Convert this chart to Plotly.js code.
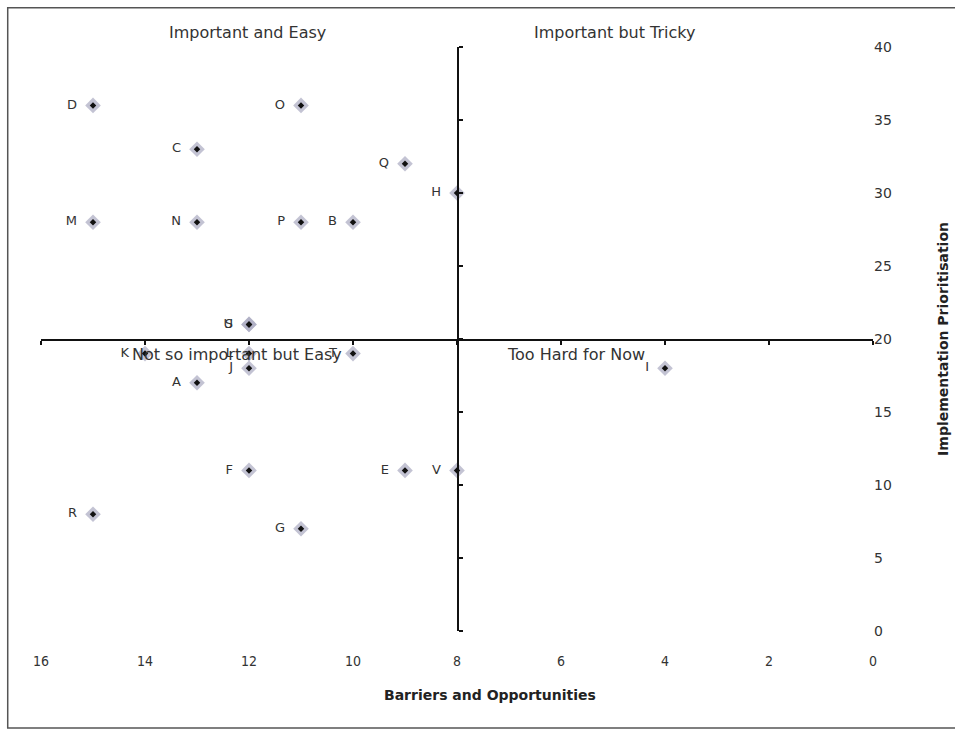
<!DOCTYPE html>
<html>
<head>
<meta charset="utf-8">
<script src="https://cdn.plot.ly/plotly-3.0.1.min.js"></script>
<style>html,body{margin:0;padding:0;background:#fff;}#chart{width:955px;height:733px;}</style>
</head>
<body>
<div id="chart"></div>
<script>
// Data
const labels = ["D","O","C","Q","H","M","N","P","B","U","S","K","L","T","J","I","A","F","E","V","R","G"];
const barriers = [15,11,13,9,8,15,13,11,10,12,12,14,12,10,12,4,13,12,9,8,15,11];
const priority = [36,36,33,32,30,28,28,28,28,21,21,19,19,19,18,18,17,11,11,11,8,7];

const quadrantNames = ["Important and Easy","Important but Tricky","Not so important but Easy","Too Hard for Now"];
const quadrantX = [12.02,4.98,12.23,5.71];
const quadrantRow = ["top","top","middle","middle"];

const xTicks = [16,14,12,10,8,6,4,2,0];
const yTicks = [0,5,10,15,20,25,30,35,40];

const font = "DejaVu Sans, Verdana, sans-serif";

const traces = [
  { // soft grey halo of each marker
    x: barriers, y: priority, type: "scatter", mode: "markers",
    marker: {symbol: "diamond", size: 12, color: "rgba(170,170,192,0.7)"},
    hoverinfo: "skip", showlegend: false
  },
  { // dark core
    x: barriers, y: priority, type: "scatter", mode: "markers",
    marker: {symbol: "diamond", size: 5, color: "#111"},
    hoverinfo: "skip", showlegend: false
  },
  { // point labels
    x: barriers, y: priority, type: "scatter", mode: "markers+text",
    text: labels, textposition: "middle left",
    textfont: {family: font, size: 13, color: "#333"},
    marker: {size: 24, color: "rgba(0,0,0,0)"},
    hoverinfo: "skip", showlegend: false
  },
  { // carrier for the crossing axes
    x: [], y: [], xaxis: "x2", yaxis: "y2", type: "scatter", mode: "markers",
    showlegend: false
  }
];

const annotations = quadrantNames.map((t, i) => ({
  text: t, x: quadrantX[i], xref: "x",
  y: quadrantRow[i] === "top" ? 1.024 : 0.474, yref: "paper",
  showarrow: false, yanchor: "middle",
  font: {family: font, size: 16, color: "#333"}
}));
annotations.push({
  text: "<b>Barriers and Opportunities</b>", xref: "paper", yref: "paper",
  x: 0.54, y: -0.11, showarrow: false, yanchor: "middle",
  font: {family: font, size: 14, color: "#222"}
});
annotations.push({
  text: "<b>Implementation Prioritisation</b>", xref: "paper", yref: "paper",
  x: 1.084, y: 0.5, textangle: -90, showarrow: false, xanchor: "center",
  font: {family: font, size: 14, color: "#222"}
});

const layout = {
  width: 955, height: 733,
  margin: {l: 41, r: 82, t: 47, b: 102},
  paper_bgcolor: "#fff", plot_bgcolor: "#fff",
  showlegend: false,
  xaxis: {
    range: [16, 0], showgrid: false, zeroline: false, showline: false,
    tickmode: "array", tickvals: xTicks, ticktext: xTicks.map(String),
    ticks: "outside", ticklen: 17, tickcolor: "rgba(0,0,0,0)",
    tickfont: {family: "DejaVu Sans Condensed, DejaVu Sans, sans-serif", size: 14, color: "#333"}
  },
  yaxis: {
    range: [0, 40], side: "right", showgrid: false, zeroline: false, showline: false,
    tickmode: "array", tickvals: yTicks, ticktext: yTicks.map(String),
    ticks: "", tickfont: {family: font, size: 14, color: "#333"}
  },
  xaxis2: {
    overlaying: "x", anchor: "free", position: 0.5, range: [16, 0],
    showgrid: false, zeroline: false, showline: true, linecolor: "#111", linewidth: 1.5,
    ticks: "outside", ticklen: 4, tickwidth: 1.2, tickcolor: "#111",
    tickmode: "array", tickvals: xTicks, showticklabels: false
  },
  yaxis2: {
    overlaying: "y", anchor: "free", position: 0.5, side: "right", range: [0, 40],
    showgrid: false, zeroline: false, showline: true, linecolor: "#111", linewidth: 1.5,
    ticks: "outside", ticklen: 4, tickwidth: 1.2, tickcolor: "#111",
    tickmode: "array", tickvals: yTicks, showticklabels: false
  },
  annotations: annotations,
  shapes: [{
    type: "rect", xref: "paper", yref: "paper",
    x0: -0.04, x1: 1.1, y0: -0.166, y1: 1.067,
    line: {color: "#555", width: 1.5}, layer: "below"
  }]
};

Plotly.newPlot("chart", traces, layout, {staticPlot: true, displayModeBar: false});
</script>
</body>
</html>
